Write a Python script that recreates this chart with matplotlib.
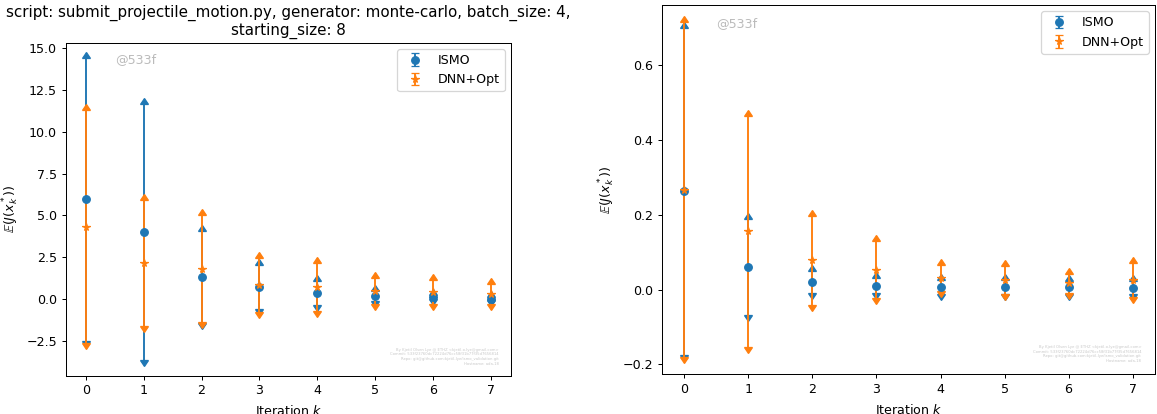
import numpy as np
import matplotlib
matplotlib.use("Agg")
import matplotlib.pyplot as plt
import matplotlib.lines as mlines

iterations = [0, 1, 2, 3, 4, 5, 6, 7]

# Left panel (script: submit_projectile_motion.py)
left_ismo_mean = [5.96, 4.00, 1.31, 0.70, 0.34, 0.15, 0.10, 0.00]
left_ismo_std = [8.48, 7.69, 2.75, 1.34, 0.71, 0.29, 0.13, 0.09]
left_dnn_mean = [4.32, 2.15, 1.80, 0.82, 0.70, 0.46, 0.40, 0.28]
left_dnn_std = [6.97, 3.77, 3.20, 1.62, 1.45, 0.78, 0.73, 0.58]

# Right panel
right_ismo_mean = [0.263, 0.061, 0.020, 0.011, 0.008, 0.007, 0.006, 0.005]
right_ismo_std = [0.437, 0.129, 0.030, 0.021, 0.019, 0.018, 0.017, 0.018]
right_dnn_mean = [0.268, 0.156, 0.078, 0.053, 0.032, 0.026, 0.017, 0.025]
right_dnn_std = [0.449, 0.309, 0.119, 0.076, 0.035, 0.037, 0.025, 0.045]

title_text = ("script: submit_projectile_motion.py, generator: monte-carlo, batch_size: 4,\n"
              "starting_size: 8")
watermark = "@533f"
credits = ("By Kjetil Olsen Lye @ ETHZ <kjetil.o.lye@gmail.com>\n"
           "Commit: 533f23760dc72224d76cc58f31b77f35d7656814\n"
           "Repo: git@github.com:kjetil-lye/ismo_validation.git\n"
           "Hostname: ada-18")

DPI = 91
W, H = 1157, 414
fig = plt.figure(figsize=(W / DPI, H / DPI), dpi=DPI)

def fr(x0, y0, x1, y1):
    return [x0 / W, 1 - y1 / H, (x1 - x0) / W, (y1 - y0) / H]

ax1 = fig.add_axes(fr(65.7, 42.7, 511, 375.5))
ax2 = fig.add_axes(fr(662, 5, 1155, 374))

def draw(ax, im, isd, dm, dsd):
    x = np.array(iterations)
    series = [("ISMO", "o", "C0", im, isd), ("DNN+Opt", "*", "C1", dm, dsd)]
    for label, mk, col, m, s in series:
        m = np.array(m); s = np.array(s)
        ax.errorbar(x, m, yerr=s, fmt=mk, color=col, capsize=3, label=label)
        ax.plot(x, m + s, linestyle="none", marker=mlines.CARETUPBASE,
                color=col, markersize=6.5, zorder=2)
        ax.plot(x, m - s, linestyle="none", marker=mlines.CARETDOWNBASE,
                color=col, markersize=6.5, zorder=2)
    ax.legend(loc="upper right")
    ax.set_xlabel("Iteration $k$", labelpad=5.5)
    ax.set_ylabel(r"$\mathbb{E}(J(x_k^*))$")
    ax.text(0.11, 0.95, watermark, transform=ax.transAxes, color="#bbbbbb",
            fontsize=10, ha="left", va="center")
    ax.text(0.972, 0.03, credits, transform=ax.transAxes, color="#c8c8c8",
            fontsize=3, ha="right", va="bottom", multialignment="right")

draw(ax1, left_ismo_mean, left_ismo_std, left_dnn_mean, left_dnn_std)
draw(ax2, right_ismo_mean, right_ismo_std, right_dnn_mean, right_dnn_std)
ax1.set_title(title_text, fontsize=12)

fig.savefig("out.png", dpi=DPI)
